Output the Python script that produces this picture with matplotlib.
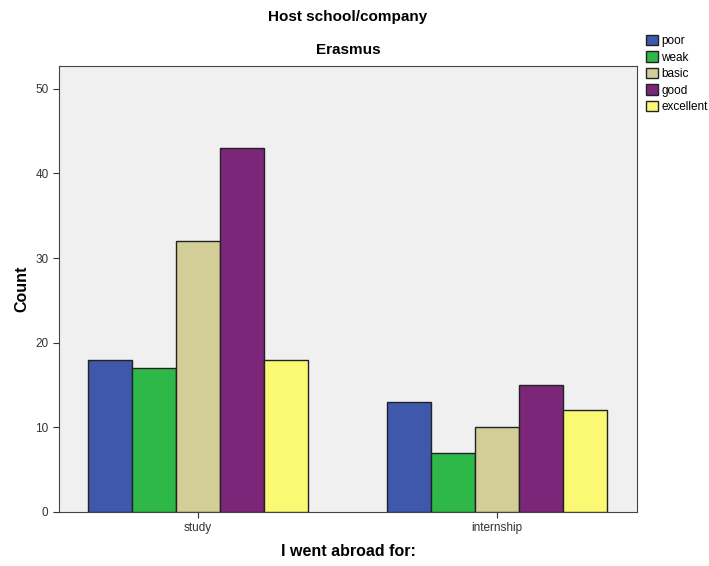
import numpy as np
import matplotlib
matplotlib.use('Agg')
import matplotlib.pyplot as plt

plt.rcParams['font.family'] = ['Liberation Sans', 'DejaVu Sans']

# data
categories = ['study', 'internship']
levels = ['poor', 'weak', 'basic', 'good', 'excellent']
counts = {
    'poor': [18, 13],
    'weak': [17, 7],
    'basic': [32, 10],
    'good': [43, 15],
    'excellent': [18, 12],
}
colors = ['#3E58AC', '#2EB848', '#D3CE97', '#7B2678', '#FBF873']

fig = plt.figure(figsize=(7.09, 5.66), dpi=100)
ax = fig.add_axes([59 / 709, 1 - 512 / 566, (637 - 59) / 709, (512 - 66) / 566])
ax.set_facecolor('#F0F0F0')

x = np.arange(len(categories))
width = 0.147
for i, lvl in enumerate(levels):
    ax.bar(x + (i - 2) * width, counts[lvl], width, color=colors[i],
           edgecolor='#222222', linewidth=1, label=lvl, zorder=3)

ax.set_xlim(-0.465, 1.468)
ax.set_ylim(0, 52.7)
ax.set_yticks([0, 10, 20, 30, 40, 50])
ax.set_xticks(x)
ax.set_xticklabels(categories)
ax.tick_params(labelsize=8.5, colors='#333333', length=4)
for s in ax.spines.values():
    s.set_color('#444444')

ax.set_ylabel('Count', fontsize=11.5, fontweight='bold')
ax.set_xlabel('I went abroad for:', fontsize=11.5, fontweight='bold', labelpad=7)

fig.text(348 / 709, 1 - 17 / 566, 'Host school/company', ha='center', va='center',
         fontsize=11, fontweight='bold')
fig.text(348 / 709, 1 - 50 / 566, 'Erasmus', ha='center', va='center',
         fontsize=11, fontweight='bold')

leg = fig.legend(loc='upper left', bbox_to_anchor=(640 / 709, 1 - 29 / 566),
                 frameon=False, fontsize=8.5, handlelength=1.0, handleheight=1.0,
                 handletextpad=0.3, labelspacing=0.35, borderpad=0)

plt.savefig('out.png', dpi=100)
